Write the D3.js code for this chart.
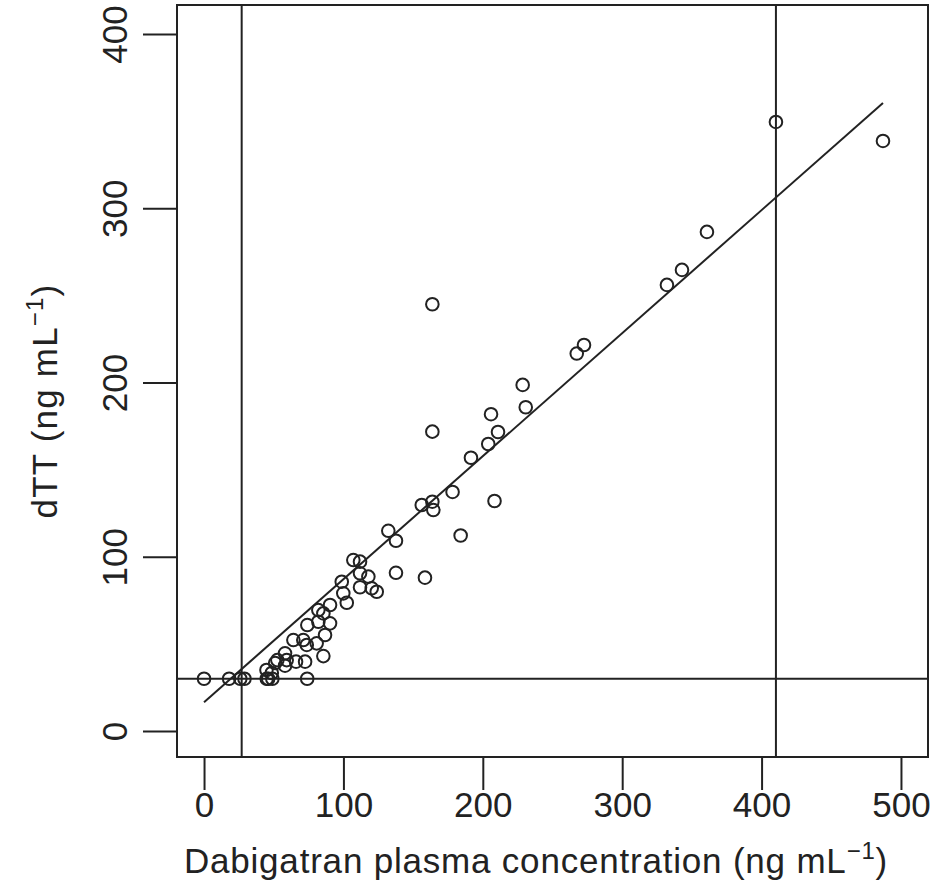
<!DOCTYPE html>
<html>
<head>
<meta charset="utf-8">
<script src="https://cdn.jsdelivr.net/npm/d3@7"></script>
<style>
  html, body { margin: 0; padding: 0; background: #fff; }
  svg text { font-family: "Liberation Sans", Arial, Helvetica, sans-serif; fill: #222; }
</style>
</head>
<body>
<svg id="chart" width="940" height="891"></svg>
<script>
// Dabigatran plasma concentration (ng/mL) vs dTT (ng/mL)
const concentration = [
  0, 18, 26, 29, 45, 46, 49, 74,
  44.8, 48.6, 51, 52.6, 58.1, 59.3, 58.1, 66, 72.5,
  64.1, 71.2, 73.7, 80.8, 85.6, 86.8,
  74.1, 82, 82, 85.6, 90.4, 90.4,
  98.8, 99.9, 102.4,
  107.1, 111.9, 111.9, 117.9, 111.9, 120.3, 123.9,
  132.2, 137.7, 137.7, 158.5,
  156.2, 163.8, 164.5, 178.3, 184.1, 163.8, 163.8,
  191.5, 203.9, 210.9, 205.9, 208.4,
  228.6, 230.8, 267.4, 272.6,
  332.1, 342.9, 360.8, 410.3, 487.1
];
const dtt = [
  30, 30, 30, 30, 30, 30, 30, 30,
  35, 33.3, 39, 40.7, 44.6, 40.7, 37.5, 39.8, 39.8,
  52.2, 52.2, 49.4, 50.3, 43, 55.1,
  60.8, 62.7, 69.4, 67.5, 72.3, 61.8,
  85.7, 79, 73.6,
  98.1, 97.2, 90.5, 88.6, 82.5, 81.9, 79.9,
  114.9, 109.2, 90.8, 88,
  129.7, 131.6, 126.8, 137.2, 112.2, 171.8, 244.9,
  156.8, 164.7, 171.6, 181.8, 132,
  198.6, 185.8, 216.6, 221.5,
  256, 264.6, 286.4, 349.5, 338.6
];

// Fitted regression line: dTT = intercept + slope * concentration
const fitIntercept = 16.5;
const fitSlope = 0.706;

// Reference cut-offs
const cutoffX = [27, 410.3];
const cutoffY = [30];

const xTicks = [0, 100, 200, 300, 400, 500];
const yTicks = [0, 100, 200, 300, 400];

const plot = { left: 177, right: 928, top: 5, bottom: 757 };

const x = d3.scaleLinear().domain([-19.4, 519.4]).range([plot.left, plot.right]);
const y = d3.scaleLinear().domain([-14.9, 416.6]).range([plot.bottom, plot.top]);

const svg = d3.select("#chart");
const ink = "#222";
const fontSize = 35;

svg.append("clipPath").attr("id", "plotclip")
  .append("rect")
  .attr("x", plot.left).attr("y", plot.top)
  .attr("width", plot.right - plot.left).attr("height", plot.bottom - plot.top);

const inner = svg.append("g").attr("clip-path", "url(#plotclip)");

// cut-off lines
inner.selectAll("line.vcut").data(cutoffX).join("line")
  .attr("class", "vcut")
  .attr("x1", d => x(d)).attr("x2", d => x(d))
  .attr("y1", plot.top).attr("y2", plot.bottom)
  .attr("stroke", ink).attr("stroke-width", 2);

inner.selectAll("line.hcut").data(cutoffY).join("line")
  .attr("class", "hcut")
  .attr("x1", plot.left).attr("x2", plot.right)
  .attr("y1", d => y(d)).attr("y2", d => y(d))
  .attr("stroke", ink).attr("stroke-width", 2);

// regression line over the observed concentration range
const xmin = d3.min(concentration), xmax = d3.max(concentration);
inner.append("line")
  .attr("x1", x(xmin)).attr("y1", y(fitIntercept + fitSlope * xmin))
  .attr("x2", x(xmax)).attr("y2", y(fitIntercept + fitSlope * xmax))
  .attr("stroke", ink).attr("stroke-width", 2);

// observations
inner.selectAll("circle.pt").data(concentration).join("circle")
  .attr("class", "pt")
  .attr("cx", d => x(d))
  .attr("cy", (d, i) => y(dtt[i]))
  .attr("r", 6.3)
  .attr("fill", "none")
  .attr("stroke", ink)
  .attr("stroke-width", 2);

// frame
svg.append("rect")
  .attr("x", plot.left).attr("y", plot.top)
  .attr("width", plot.right - plot.left).attr("height", plot.bottom - plot.top)
  .attr("fill", "none").attr("stroke", ink).attr("stroke-width", 2);

// x axis
const xAxis = d3.axisBottom(x).tickValues(xTicks).tickSize(33).tickPadding(2).tickSizeOuter(0);
const gx = svg.append("g").attr("transform", `translate(0,${plot.bottom})`).call(xAxis);
gx.select(".domain").remove();
gx.selectAll(".tick line").attr("stroke", ink).attr("stroke-width", 2);
gx.selectAll(".tick text").attr("font-size", fontSize).attr("fill", ink)
  .style("font-family", '"Liberation Sans", Arial, sans-serif');

// y axis (labels parallel to the axis)
const yAxis = d3.axisLeft(y).tickValues(yTicks).tickSize(34).tickPadding(0).tickSizeOuter(0);
const gy = svg.append("g").attr("transform", `translate(${plot.left},0)`).call(yAxis);
gy.select(".domain").remove();
gy.selectAll(".tick line").attr("stroke", ink).attr("stroke-width", 2);
gy.selectAll(".tick text")
  .attr("x", null).attr("dy", null)
  .attr("text-anchor", "middle")
  .attr("transform", "translate(-50,0) rotate(-90)")
  .attr("font-size", fontSize).attr("fill", ink)
  .style("font-family", '"Liberation Sans", Arial, sans-serif');

// axis titles
const xTitle = svg.append("text")
  .attr("x", 536)
  .attr("y", 873)
  .attr("text-anchor", "middle")
  .attr("font-size", fontSize)
  .style("letter-spacing", "0.8px");
xTitle.append("tspan").text("Dabigatran plasma concentration (ng mL");
xTitle.append("tspan").attr("font-size", 24).attr("dy", -14).text("\u22121");
xTitle.append("tspan").attr("dy", 14).text(")");

const yTitle = svg.append("text")
  .attr("transform", "translate(57,401) rotate(-90)")
  .attr("text-anchor", "middle")
  .attr("font-size", fontSize)
  .style("letter-spacing", "1.2px");
yTitle.append("tspan").text("dTT (ng mL");
yTitle.append("tspan").attr("font-size", 24).attr("dy", -14).text("\u22121");
yTitle.append("tspan").attr("dy", 14).text(")");
</script>
</body>
</html>
